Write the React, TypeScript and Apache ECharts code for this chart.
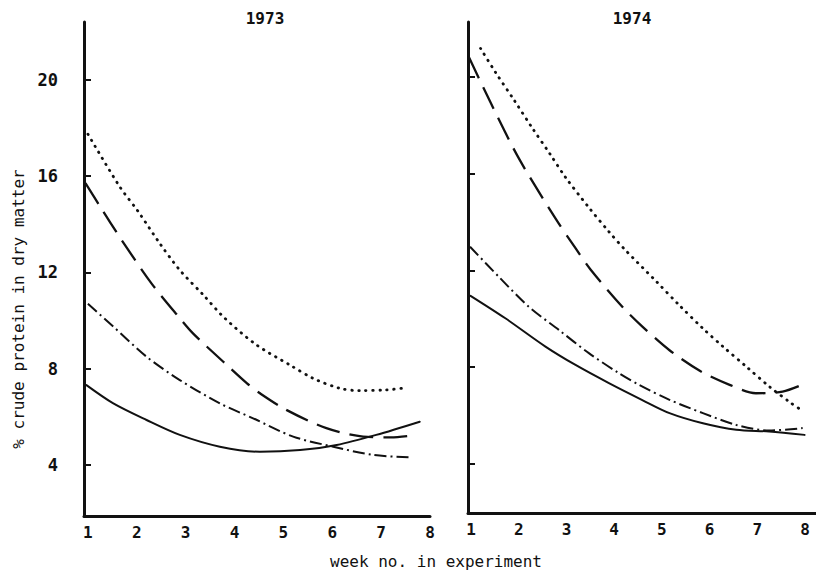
import React, { useEffect, useRef } from "react";
import * as echarts from "echarts";

// ---- Data ----
const yTickValues = [4, 8, 12, 16, 20];
const xTickValues = [1, 2, 3, 4, 5, 6, 7, 8];
const panelTitles = ["1973", "1974"];

// 1973
const dotted73X = [1.0, 1.65, 2.03, 2.47, 2.88, 3.36, 3.8, 4.45, 5.13, 5.61, 6.15, 6.56, 7.11, 7.52];
const dotted73Y = [17.75, 15.57, 14.53, 13.21, 12.1, 11.07, 10.1, 8.99, 8.16, 7.6, 7.19, 7.09, 7.12, 7.21];
const dashed73X = [0.95, 1.25, 1.69, 2.3, 2.88, 3.15, 3.77, 4.25, 4.52, 5.06, 5.88, 6.63, 7.2, 7.72];
const dashed73Y = [15.71, 14.74, 13.35, 11.55, 10.1, 9.47, 8.29, 7.4, 6.98, 6.29, 5.53, 5.18, 5.15, 5.25];
const dashDot73X = [1.0, 1.52, 2.2, 2.88, 3.7, 4.38, 5.2, 6.02, 6.83, 7.58];
const dashDot73Y = [10.7, 9.75, 8.5, 7.53, 6.56, 5.94, 5.18, 4.76, 4.42, 4.32];
const solid73X = [0.97, 1.52, 2.2, 2.88, 3.7, 4.52, 5.34, 6.09, 6.9, 7.79];
const solid73Y = [7.32, 6.56, 5.87, 5.25, 4.76, 4.55, 4.62, 4.83, 5.25, 5.8];

// 1974
const dotted74X = [1.2, 1.51, 1.9, 2.28, 2.66, 2.98, 3.47, 3.89, 4.23, 4.88, 5.37, 5.86, 6.28, 6.77, 7.25, 7.71, 7.92];
const dotted74Y = [21.18, 20.2, 19.05, 17.9, 16.8, 15.85, 14.6, 13.6, 12.85, 11.55, 10.55, 9.6, 8.85, 8.02, 7.2, 6.51, 6.23];
const dashed74X = [0.95, 1.4, 2.0, 2.77, 3.19, 3.5, 4.17, 4.58, 5.16, 5.82, 6.42, 6.97, 7.53, 8.02];
const dashed74Y = [20.84, 18.98, 16.64, 14.15, 12.92, 12.05, 10.5, 9.7, 8.7, 7.82, 7.27, 6.92, 6.99, 7.34];
const dashDot74X = [0.98, 1.58, 2.21, 2.84, 3.47, 4.1, 4.52, 5.16, 5.86, 6.56, 7.25, 7.95];
const dashDot74Y = [12.98, 11.74, 10.5, 9.54, 8.58, 7.75, 7.27, 6.65, 6.1, 5.61, 5.38, 5.48];
const solid74X = [0.99, 1.72, 2.56, 3.19, 3.89, 4.58, 5.16, 5.86, 6.56, 7.25, 7.99];
const solid74Y = [10.95, 10.02, 8.85, 8.09, 7.34, 6.65, 6.1, 5.68, 5.41, 5.34, 5.2];

const INK = "#111111";
const FONT = "DejaVu Sans Mono";

const pairs = (xs: number[], ys: number[]) => xs.map((x, i) => [x, ys[i]]);

const styles: Record<string, any> = {
  dotted: { type: [0.5, 6.5], width: 2.8, cap: "round" },
  dashed: { type: [24, 10], width: 2.3, cap: "butt" },
  dashDot: { type: [12, 4, 2, 4], width: 2.0, cap: "butt" },
  solid: { type: "solid", width: 2.0, cap: "round" },
};

function line(name: string, idx: number, xs: number[], ys: number[], kind: string) {
  return {
    type: "line",
    name,
    xAxisIndex: idx,
    yAxisIndex: idx,
    data: pairs(xs, ys),
    smooth: 0.3,
    symbol: "none",
    lineStyle: { color: INK, ...styles[kind] },
    silent: true,
  };
}

export default function App() {
  const ref = useRef<HTMLDivElement>(null);
  useEffect(() => {
    if (!ref.current) return;
    const chart = echarts.init(ref.current, null, { renderer: "svg" });
    const xAxisBase = (gridIndex: number, min: number, max: number) => ({
      type: "value",
      gridIndex,
      min,
      max,
      axisLine: { show: true, onZero: false, lineStyle: { color: INK, width: 3 } },
      axisTick: { show: false },
      splitLine: { show: false },
      axisLabel: {
        customValues: xTickValues,
        color: INK,
        fontFamily: FONT,
        fontSize: 16,
        fontWeight: "bold",
        margin: 8,
      },
    });
    const yAxisBase = (gridIndex: number, min: number, max: number, showLabels: boolean) => ({
      type: "value",
      gridIndex,
      min,
      max,
      axisLine: { show: true, onZero: false, lineStyle: { color: INK, width: 3 } },
      axisTick: {
        show: true,
        inside: true,
        length: 7,
        customValues: yTickValues,
        lineStyle: { color: INK, width: 2 },
      },
      splitLine: { show: false },
      axisLabel: {
        show: showLabels,
        customValues: yTickValues,
        color: INK,
        fontFamily: FONT,
        fontSize: 17,
        fontWeight: "bold",
        margin: 26,
      },
    });
    chart.setOption({
      animation: false,
      backgroundColor: "#ffffff",
      grid: [
        { left: 84, top: 22, width: 346, height: 494, containLabel: false },
        { left: 468, top: 22, width: 348, height: 491, containLabel: false },
      ],
      xAxis: [xAxisBase(0, 0.92, 8.0), xAxisBase(1, 0.937, 8.23)],
      yAxis: [yAxisBase(0, 1.88, 22.41, true), yAxisBase(1, 1.97, 22.27, false)],
      graphic: [
        {
          type: "text",
          x: 265,
          y: 18,
          style: {
            text: panelTitles[0],
            fill: INK,
            font: `bold 16px "${FONT}"`,
            textAlign: "center",
            textVerticalAlign: "middle",
          },
        },
        {
          type: "text",
          x: 632,
          y: 18,
          style: {
            text: panelTitles[1],
            fill: INK,
            font: `bold 16px "${FONT}"`,
            textAlign: "center",
            textVerticalAlign: "middle",
          },
        },
        {
          type: "text",
          x: 18,
          y: 309,
          rotation: Math.PI / 2,
          style: {
            text: "% crude protein in dry matter",
            fill: INK,
            font: `16px "${FONT}"`,
            textAlign: "center",
            textVerticalAlign: "middle",
          },
        },
        {
          type: "text",
          x: 436,
          y: 561,
          style: {
            text: "week no. in experiment",
            fill: INK,
            font: `16px "${FONT}"`,
            textAlign: "center",
            textVerticalAlign: "middle",
          },
        },
      ],
      series: [
        line("1973 dotted", 0, dotted73X, dotted73Y, "dotted"),
        line("1973 dashed", 0, dashed73X, dashed73Y, "dashed"),
        line("1973 dash-dot", 0, dashDot73X, dashDot73Y, "dashDot"),
        line("1973 solid", 0, solid73X, solid73Y, "solid"),
        line("1974 dotted", 1, dotted74X, dotted74Y, "dotted"),
        line("1974 dashed", 1, dashed74X, dashed74Y, "dashed"),
        line("1974 dash-dot", 1, dashDot74X, dashDot74Y, "dashDot"),
        line("1974 solid", 1, solid74X, solid74Y, "solid"),
      ],
    });
    return () => chart.dispose();
  }, []);
  return (
    <div
      ref={ref}
      style={{ position: "fixed", left: 0, top: 0, width: 816, height: 576, background: "#fff" }}
    />
  );
}
